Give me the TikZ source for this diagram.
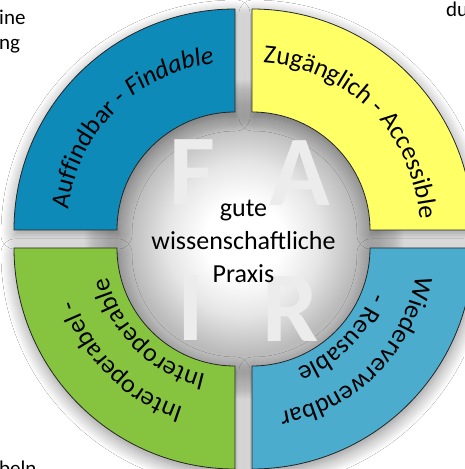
\documentclass[tikz,border=0pt]{standalone}
\usepackage{fontspec}
\setmainfont{Carlito}
\usetikzlibrary{calc,decorations.text,shadows.blur}
\definecolor{segblue}{RGB}{14,138,184}
\definecolor{segyellow}{RGB}{255,255,102}
\definecolor{seggreen}{RGB}{134,196,64}
\definecolor{segaqua}{RGB}{75,172,206}
\definecolor{fairgray}{RGB}{236,236,236}
\pgfdeclareradialshading{ringgray}{\pgfpoint{0bp}{0bp}}{color(0bp)=(white); color(6bp)=(white); color(12bp)=(black!10); color(18bp)=(black!27); color(21bp)=(black!24); color(23.5bp)=(black!13); color(25bp)=(white); color(50bp)=(white)}
\newcommand\arcfont{\fontsize{26}{30}\selectfont}
\newcommand\fairseg[3]{%
  \path[seg, fill=#3] ($(#1)+(#2:221pt)$) arc[start angle=#2, end angle=#2-90, radius=221pt]
    -- ($(#1)+(#2-90:118pt)$) arc[start angle=#2-90, end angle=#2, radius=118pt] -- cycle;}
\begin{document}
\begin{tikzpicture}[x=1pt,y=1pt,
  seg/.style={draw=black!85, line width=0.8pt,
    blur shadow={shadow xshift=1pt, shadow yshift=-5pt, shadow blur radius=14pt, shadow blur steps=14, shadow opacity=45}},
  fairletter/.style={inner sep=0pt, text=fairgray, font=\fontsize{100}{100}\selectfont\bfseries},
  edgetext/.style={inner sep=0pt, anchor=base west, font=\fontsize{21}{24}\selectfont},
  centertext/.style={align=center, inner sep=0pt, font=\fontsize{26}{33}\selectfont}]
\useasboundingbox (0,0) rectangle (464,469);
\fill[white] (0,0) rectangle (464,469);
\coordinate (ctr) at (243.5,230);
\coordinate (cTL) at (235,239);
\coordinate (cTR) at (252,239);
\coordinate (cBL) at (235,221);
\coordinate (cBR) at (252,221);
% background text fragments
\node[edgetext] (t1) at (-1,444) {ine};
\node[edgetext] (t2) at (-1,419) {ng};
\node[edgetext] (t3) at (446,452) {du};
\node[edgetext] (t4) at (-1,-6) {beln.};
% centre disc
\path[shading=ringgray] (ctr) circle[radius=160pt];
% segments
\fairseg{cTL}{180}{segblue}
\fairseg{cTR}{90}{segyellow}
\fairseg{cBR}{0}{segaqua}
\fairseg{cBL}{270}{seggreen}
% FAIR letters
\node[fairletter] (F) at (192,297) {F};
\node[fairletter] (A) at (300,296) {A};
\node[fairletter] (I) at (191,161) {I};
\node[fairletter] (R) at (291,160) {R};
\node[centertext] (gwp) at (243.5,228) {gute\\wissenschaftliche\\Praxis};
% arc texts
\path[decorate, decoration={text along path, text align=center,
  text={|\arcfont|Auffindbar - |\arcfont\itshape|Findable}}]
  ($(cTL)+(180:168pt)$) arc[start angle=180, end angle=90, radius=168pt];
\path[decorate, decoration={text along path, text align=center,
  text={|\arcfont|Zugänglich - Accessible}}]
  ($(cTR)+(90:168pt)$) arc[start angle=90, end angle=0, radius=168pt];
\path[decorate, decoration={text along path, text align=center,
  text={|\arcfont|Wiederverwendbar}}]
  ($(cBR)+(0:166pt)$) arc[start angle=0, end angle=-90, radius=166pt];
\path[decorate, decoration={text along path, text align=center,
  text={|\arcfont|- Reusable}}]
  ($(cBR)+(0:128pt)$) arc[start angle=0, end angle=-90, radius=128pt];
\path[decorate, decoration={text along path, text align=center,
  text={|\arcfont|Interoperabel -}}]
  ($(cBL)+(270:168pt)$) arc[start angle=270, end angle=180, radius=168pt];
\path[decorate, decoration={text along path, text align=center,
  text={|\arcfont|Interoperable}}]
  ($(cBL)+(270:130pt)$) arc[start angle=270, end angle=180, radius=130pt];
\end{tikzpicture}
\end{document}
